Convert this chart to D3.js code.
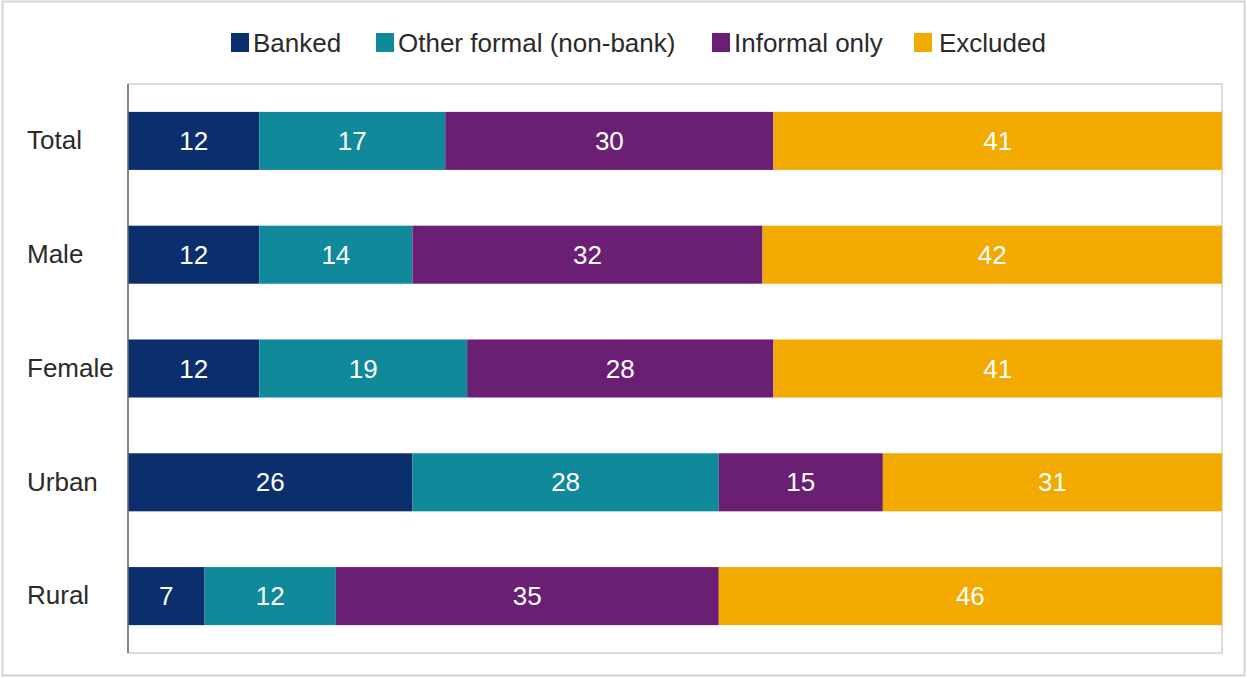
<!DOCTYPE html>
<html>
<head>
<meta charset="utf-8">
<script src="https://cdn.jsdelivr.net/npm/d3@7"></script>
<style>
  body { margin: 0; background: #fff; }
  text { font-family: "Liberation Sans", Arial, sans-serif; }
</style>
</head>
<body>
<div id="chart"></div>
<script>
// categories and series
const categories = ['Total', 'Male', 'Female', 'Urban', 'Rural'];
const seriesNames = ['Banked', 'Other formal (non-bank)', 'Informal only', 'Excluded'];
const banked = [12, 12, 12, 26, 7];
const otherFormal = [17, 14, 19, 28, 12];
const informalOnly = [30, 32, 28, 15, 35];
const excluded = [41, 42, 41, 31, 46];
const colors = ['#0b2e6c', '#10899b', '#6a1f74', '#f2aa00'];

const width = 1247, height = 678;
const margin = {top: 84, right: 25, bottom: 25, left: 128};

const svg = d3.select('#chart').append('svg')
    .attr('width', width)
    .attr('height', height);

// outer frame
svg.append('rect')
    .attr('x', 2.5).attr('y', 1.5)
    .attr('width', width - 5).attr('height', height - 4)
    .attr('fill', '#fff')
    .attr('stroke', '#d4d4d4')
    .attr('stroke-width', 2);

const innerW = width - margin.left - margin.right;
const innerH = height - margin.top - margin.bottom;

const x = d3.scaleLinear().domain([0, 100]).range([margin.left, margin.left + innerW]);
const y = d3.scaleBand().domain(categories).range([margin.top, margin.top + innerH]).paddingInner(0.49).paddingOuter(0.245);

// plot frame
svg.append('rect')
    .attr('x', margin.left).attr('y', margin.top)
    .attr('width', innerW).attr('height', innerH)
    .attr('fill', 'none')
    .attr('stroke', '#d0d0d0')
    .attr('stroke-width', 1.5);

// build table for stacking
const table = categories.map((c, i) => ({
  cat: c,
  'Banked': banked[i],
  'Other formal (non-bank)': otherFormal[i],
  'Informal only': informalOnly[i],
  'Excluded': excluded[i]
}));

const stack = d3.stack().keys(seriesNames)(table);

const groups = svg.append('g').selectAll('g')
    .data(stack)
    .join('g')
    .attr('fill', (d, i) => colors[i]);

groups.selectAll('rect')
    .data(d => d)
    .join('rect')
    .attr('x', d => x(d[0]))
    .attr('y', d => y(d.data.cat))
    .attr('width', d => x(d[1]) - x(d[0]))
    .attr('height', y.bandwidth());

groups.selectAll('text')
    .data(d => d)
    .join('text')
    .attr('x', d => (x(d[0]) + x(d[1])) / 2)
    .attr('y', d => y(d.data.cat) + y.bandwidth() / 2)
    .attr('dy', '0.35em')
    .attr('text-anchor', 'middle')
    .attr('fill', '#fff')
    .style('font-size', '26px')
    .text(d => d[1] - d[0]);

// left axis
const yAxis = svg.append('g')
    .attr('transform', `translate(${margin.left},0)`)
    .call(d3.axisLeft(y).tickSize(0).tickPadding(0));
yAxis.select('.domain').attr('stroke', '#6b6b6b').attr('stroke-width', 1.5)
    .attr('d', `M0,${margin.top}V${margin.top + innerH}`);
yAxis.selectAll('.tick text')
    .attr('x', -101)
    .attr('text-anchor', 'start')
    .attr('fill', '#2a2a2a')
    .style('font-size', '26px')
    .style('font-family', '"Liberation Sans", Arial, sans-serif');

// legend
const legendX = [231, 376, 712, 914];
const legend = svg.append('g').selectAll('g')
    .data(seriesNames)
    .join('g')
    .attr('transform', (d, i) => `translate(${legendX[i]},43)`);
legend.append('rect')
    .attr('x', 0).attr('y', -10)
    .attr('width', 18).attr('height', 19)
    .attr('fill', (d, i) => colors[i]);
legend.append('text')
    .attr('x', (d, i) => i === 3 ? 25 : 22)
    .attr('dy', '0.35em')
    .attr('fill', '#2a2a2a')
    .style('font-size', '26px')
    .text(d => d);
</script>
</body>
</html>
